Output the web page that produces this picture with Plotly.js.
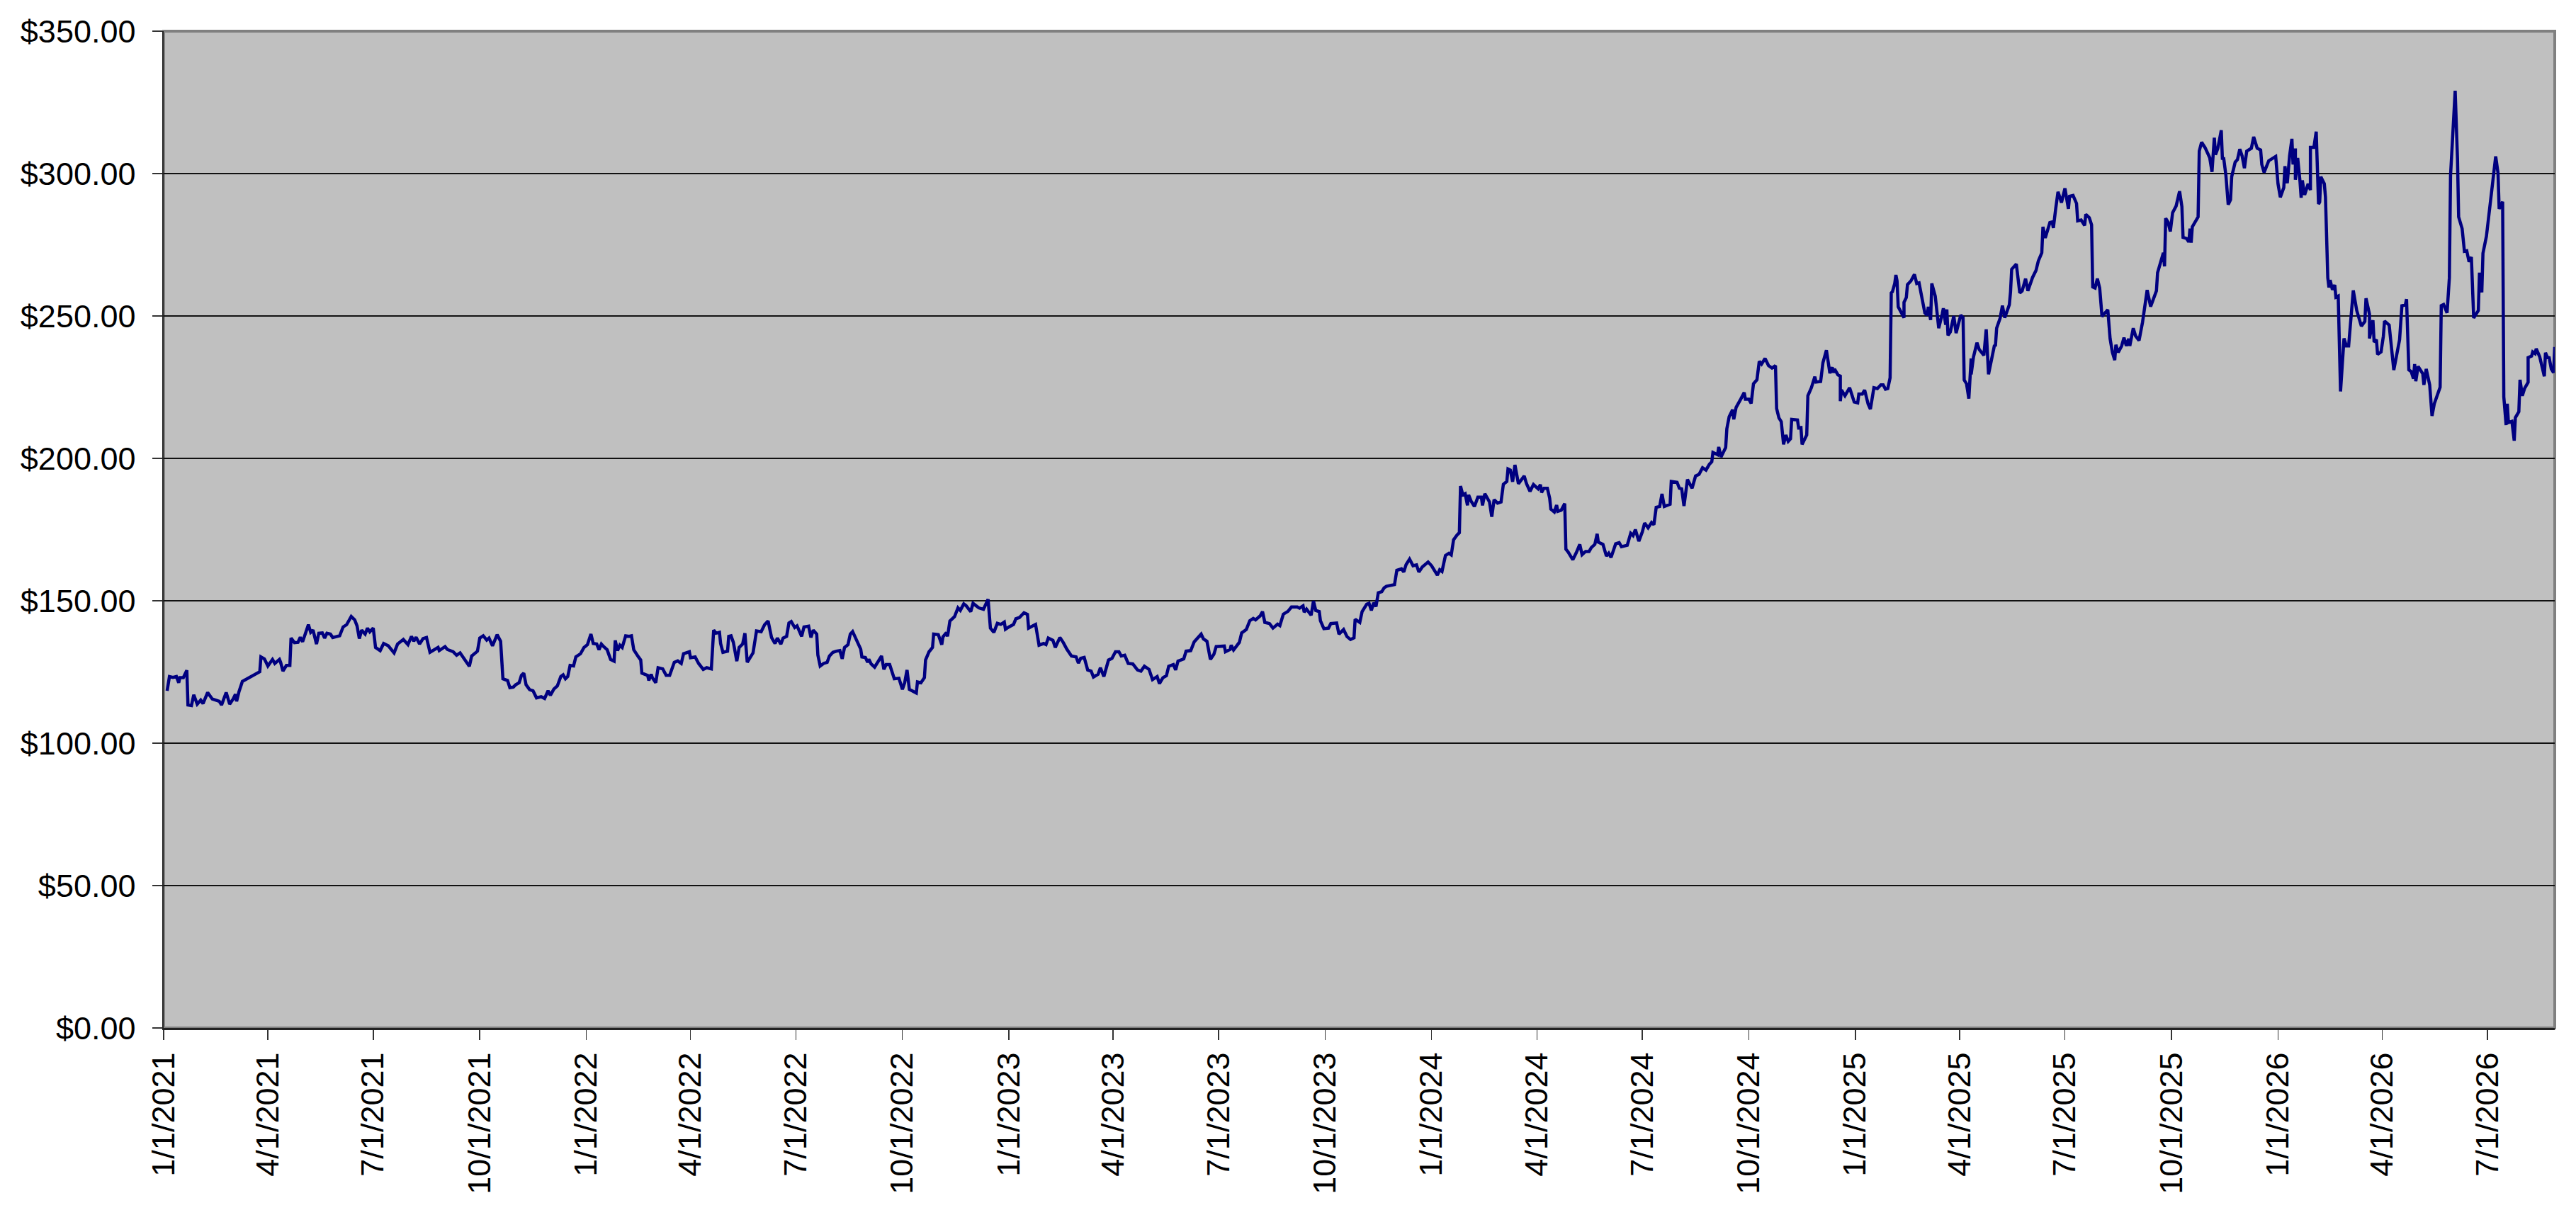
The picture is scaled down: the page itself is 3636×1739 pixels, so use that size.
<!DOCTYPE html>
<html>
<head>
<meta charset="utf-8">
<script src="https://cdn.plot.ly/plotly-3.0.1.min.js"></script>
<style>
  html, body { margin: 0; padding: 0; background: #ffffff; }
  #chart { width: 3636px; height: 1739px; }
</style>
</head>
<body>
<div id="chart"></div>
<script>
// days counted from 1/1/2021
const tradingDays = [
  3,5,8,11,13,14,17,20,21,24,26,29,32,34,38,42,48,50,54,57,60,62,63,65,68,73,77,81,83,84,
  87,90,94,96,100,101,103,106,109,110,113,116,118,120,123,125,127,129,132,134,137,139,141,144,146,152,155,158,162,165,
  167,169,171,174,176,178,181,183,187,190,194,197,199,202,207,211,214,216,218,221,224,227,230,237,238,243,245,250,253,256,
  259,262,264,266,271,273,276,279,281,284,288,291,293,297,
  299,302,304,307,309,311,313,316,319,322,326,329,332,334,337,340,343,345,347,349,351,354,356,360,363,366,369,371,374,376,
  378,380,383,386,389,390,392,394,396,399,402,404,406,410,412,413,416,418,419,421,422,425,427,431,434,437,441,444,447,449,
  454,455,459,462,466,469,473,475,477,480,481,483,487,488,490,492,495,497,500,502,504,507,509,512,516,519,522,525,528,530,
  533,535,538,540,542,545,547,551,553,557,559,561,564,565,567,570,573,575,578,581,584,586,588,591,593,
  595,599,602,603,606,608,609,611,614,620,622,624,627,631,635,638,640,642,644,650,651,654,657,658,661,664,665,669,672,673,
  676,677,679,683,686,688,691,693,697,699,704,708,712,714,717,720,723,726,727,730,734,736,739,743,746,747,753,756,760,762,
  764,768,770,774,777,780,784,788,790,792,795,798,801,803,807,809,812,816,819,822,825,827,830,833,837,841,844,847,851,854,
  858,860,863,866,868,872,874,876,881,883,887,890,
  893,896,898,901,904,907,909,916,917,921,922,924,929,931,935,938,941,943,947,949,951,955,958,962,964,967,971,974,979,981,
  984,985,987,991,993,995,998,999,1002,1006,1008,1013,1015,1019,1022,1025,1028,1029,1033,1035,1039,1041,1043,1045,1047,1049,1052,1054,1056,1059,
  1063,1065,1069,1071,1073,1076,1079,1082,1084,1087,1092,1095,1098,1100,1102,1104,1107,1110,1112,1114,1117,1119,1120,1122,1124,1126,1127,1129,1132,1135,
  1138,1139,1141,1145,1147,1149,1152,1155,1157,1160,1161,1163,1165,1167,1170,1175,1177,1180,1183,1187,
  1189,1190,1192,1195,1197,1198,1201,1203,1204,1207,1210,1211,1213,1217,1220,1223,1225,1228,1231,1233,1236,1238,1239,1243,1246,1248,1250,1254,1257,1259,
  1264,1267,1269,1271,1274,1277,1279,1282,1285,1287,1289,1292,1294,1296,1301,1302,1307,1309,1311,1313,1316,1320,1323,1326,1329,1332,1335,1337,1338,1342,
  1343,1345,1349,1350,1352,1355,1356,1358,1362,1365,1366,1369,1371,1373,1376,1378,1380,1383,1386,1389,1392,1393,1395,1397,1399,1401,1403,1405,1406,1411,
  1412,1414,1415,1419,1420,1423,1426,1427,1431,1433,1436,1439,1441,1442,1443,1446,1448,1448,1449,1452,1456,1460,1463,1464,1467,1469,1472,1474,1477,1480,1483,
  1485,1487,1489,1491,1492,1493,1495,1496,1497,1498,1501,1503,1503,1505,1506,1509,1512,1514,1516,1519,1521,1523,1524,1526,1527,1530,1532,1533,1536,1537,
  1539,1540,1541,1543,1546,1548,1552,1554,1555,1557,1559,1561,1561,1563,1566,1568,1572,1574,1576,1578,1579,1581,1582,1583,1586,1588,1590,1594,1595,1596,
  1600,1603,1605,1608,1610,1614,1617,1619,1622,1623,1625,1629,1631,1632,1634,1636,1639,1642,1645,1646,1649,1652,1653,1656,1659,1660,1663,1665,1666,1668,
  1670,1672,1674,1676,1679,1681,1683,1685,1686,1688,1691,1693,1695,1697,1698,1701,1703,1706,1709,1713,1716,1721,1722,1727,1728,1729,1731,1733,1735,1738,
  1741,1743,1744,1747,1749,1750,1751,1752,1756,1757,1758,1760,1763,1767,
  1769,1771,1772,1774,1777,1778,1779,1781,1783,1785,1786,1789,1791,1793,1795,1797,1799,1803,1805,1808,1811,1812,1814,1818,1824,1826,1828,1831,1832,1834,
  1836,1838,1839,1841,1841,1843,1845,1846,1847,1849,1852,1854,1854,1857,1859,1861,1862,1863,1866,1867,1869,1870,1871,1873,1875,1876,1878,1880,1883,1885,
  1887,1891,1894,1898,1901,1902,1905,1905,1908,1909,1911,1912,1915,1917,1918,1922,1926,1931,1933,1936,1937,1939,1941,1943,1944,1945,1947,1951,1952,1954,
  1957,1959,1961,1964,1966,1967,1969,1972,1974,1975,1979,1981,1982,1985,1987,1989,1991,1993,1995,1999,2000,2002,2003,2006,2009,2014,2016,2017,2020,2021,
  2023,2024,2025,2028,2030,2031,2034,2035,2037,2039,2042,2042,2045,2046,2048,2049,2052,2056,2057,2059,2060,2062,2064,2065
];

const closePrices = [
  118.4,123.4,123.1,123.4,121.2,123,123,125.6,113.4,113.2,117.0,113.7,115.1,113.9,117.8,115.5,114.7,113.4,117.8,113.7,115.5,117.2,114.7,118.0,121.7,122.8,123.8,124.6,125.1,130.3,
  129.6,127.1,129.4,128.0,129.4,128.4,125.3,127.3,127.3,136.9,135.3,135.4,137.2,135.6,139.1,141.6,138.9,139.7,134.8,138.6,138.7,136.9,138.6,138.3,137.1,137.7,140.8,141.6,144.5,143.3,
  141.2,136.7,139.7,138.3,140.4,139.1,140.4,133.6,132.5,135.0,134.2,132.5,131.7,134.8,136.4,134.6,137.5,135.8,137.2,134.8,136.7,137.1,131.9,133.6,132.5,133.9,132.9,132.1,130.9,131.7,
  130.0,128.1,127.0,130.6,132.3,136.9,137.7,136.2,136.9,134.2,138.1,135.8,122.6,122.0,
  119.5,119.7,120.5,121.2,123.8,124.6,120.5,118.8,118.4,115.9,116.3,115.7,118.4,116.8,119.0,120.1,123.4,124.0,122.6,123.4,127.3,127.1,130.3,131.4,133.6,134.6,138.3,135.0,134.8,132.8,
  134.8,133.9,132.8,129.4,128.8,136.1,132.5,134.4,133.6,137.7,137.5,137.7,132.8,130.3,129.2,124.6,124.0,123.8,122.0,124.2,123.0,121.2,126.5,126.1,123.8,123.8,128.4,128.9,128.0,131.4,
  132.1,130.0,130.3,128.0,125.9,126.5,126.1,139.7,138.6,138.9,135.0,131.9,132.3,137.5,137.7,135.4,128.8,133.6,134.8,138.6,128.4,130.3,131.7,139.4,139.1,141.6,142.9,137.1,135.0,136.9,
  134.8,136.9,137.5,142.2,142.7,140.6,141.2,137.5,140.8,141.1,137.1,139.7,138.3,130.9,127.1,128.0,128.4,130.6,131.9,132.3,132.5,129.6,133.6,134.6,138.3,
  139.2,135.9,133.0,130.3,130.1,128.4,129.5,127.8,126.7,130.6,125.9,127.6,127.6,122.6,122.8,118.9,121.3,125.7,118.9,117.6,121.5,121.2,123.0,129.2,132.1,133.6,138.3,138.1,134.6,137.3,
  138.8,137.5,142.9,144.4,147.5,146.6,148.9,148.3,146.2,149.1,147.5,147.0,150.5,140.4,138.9,142.1,141.7,142.5,140.0,140.8,141.7,143.7,144.1,145.8,145.2,140.4,141.7,134.4,135.0,134.6,
  136.9,136.1,133.6,137.1,135.3,133.0,130.6,130.3,128.1,129.8,130.1,125.7,125.3,123.2,124.2,126.5,123.4,129.2,129.8,132.1,132.1,130.6,130.9,128.0,127.8,125.7,125.3,127.0,125.9,122.3,
  123.4,120.9,123.0,123.7,127.0,127.6,125.7,128.8,129.6,132.3,132.5,135.6,
  137.0,138.3,136.6,135.8,129.4,131.2,133.9,134.1,132.1,132.9,134.4,132.7,135.4,138.7,139.9,143.0,143.8,143.3,144.7,146.2,142.4,142.0,140.4,141.8,141.3,145.3,146.3,147.8,147.8,147.4,
  148.2,146.0,147.1,144.9,149.9,146.6,146.2,143.0,140.2,140.4,142.0,142.2,138.3,139.9,137.4,136.4,137.0,143.5,142.4,146.2,148.8,149.1,146.6,149.3,148.0,152.8,153.2,154.5,155.1,155.3,
  155.7,160.7,161.2,160.1,162.7,164.6,162.3,162.6,160.1,161.9,163.6,162.3,160.3,159.0,160.9,160.3,165.9,166.7,166.1,171.4,173.1,173.9,190.3,187.2,187.6,183.5,187.2,185.1,183.1,186.4,
  186.4,183.5,187.6,184.7,179.5,185.5,184.3,184.7,190.9,191.9,196.3,195.9,191.8,197.7,191.1,193.8,191.1,188.4,190.8,189.3,
  190.8,188.0,189.5,189.5,186.0,182.2,181.2,183.6,181.4,181.8,184.1,168.1,167.1,164.4,166.9,169.8,166.2,167.3,167.3,168.7,169.8,173.5,170.6,169.8,165.7,166.7,165.2,170.0,170.4,169.0,
  169.5,173.7,172.9,175.0,170.9,174.2,177.3,175.6,177.5,176.7,182.8,183.1,187.5,183.1,183.9,191.9,191.6,189.5,189.3,183.3,192.6,189.5,193.8,194.4,196.7,195.9,198.0,198.8,202.1,201.3,
  204.0,200.5,203.8,210.4,214.6,217.1,213.7,217.9,220.8,223.1,220.8,220.8,219.3,226.2,227.6,234.1,233.1,235.1,232.6,231.7,232.6,217.5,214.2,212.9,204.9,208.2,206.0,206.9,213.7,213.5,
  210.7,210.8,204.9,208.2,222.0,224.8,228.7,226.8,227.0,233.6,238.0,229.9,232.0,230.1,231.4,229.3,228.9,220.1,224.0,222.0,224.8,219.8,219.5,222.6,222.6,224.0,219.1,217.3,224.8,224.5,225.8,
  225.8,224.3,224.5,228.3,258.1,258.5,261.4,264.4,262.3,253.2,250.7,249.4,254.8,256.5,261.0,262.3,264.6,261.4,261.6,254.4,251.1,250.3,253.2,248.6,261.4,256.9,248.6,245.7,250.7,252.7,
  246.9,252.3,243.2,244.4,250.0,244.0,250.3,249.4,227.5,226.2,221.0,235.1,229.5,235.6,240.6,238.2,236.2,245.3,229.5,233.7,236.2,239.5,239.7,245.7,249.2,253.6,249.4,254.0,258.5,266.4,
  268.2,258.1,258.8,263.1,258.8,263.5,266.0,269.3,272.2,281.3,277.4,282.8,283.0,280.9,287.6,293.6,289.8,294.8,287.6,292.0,292.3,289.5,283.4,283.7,281.8,285.7,284.5,282.0,260.2,259.8,
  263.1,259.8,249.8,250.8,252.2,242.0,237.2,234.5,239.9,237.2,239.5,242.4,239.5,242.0,239.5,245.7,243.0,241.4,247.8,259.1,253.3,258.8,265.2,272.2,267.4,284.3,283.0,279.7,286.3,288.6,
  293.8,288.4,277.6,277.2,276.0,280.7,275.7,281.3,283.8,284.8,307.9,311.0,309.1,305.6,
  300.6,312.6,306.6,308.8,315.2,304.9,305.7,299.4,289.1,290.8,298.9,304.0,304.9,308.6,306.2,301.9,307.9,308.9,312.9,308.9,308.3,303.2,300.4,304.5,306.0,296.4,291.7,295.1,302.6,296.6,
  306.2,312.2,303.2,308.8,297.8,305.5,297.2,291.5,297.6,292.5,296.4,294.2,309.2,309.2,314.7,289.3,290.0,298.9,296.4,291.7,263.4,260.0,262.6,259.2,260.9,256.6,257.0,223.5,242.1,239.5,
  239.5,259.0,251.9,246.4,248.1,256.2,250.6,242.1,248.5,240.8,241.7,236.5,237.4,242.9,248.2,246.8,231.0,241.7,253.6,253.9,255.9,231.1,230.5,228.0,233.1,227.1,232.3,229.7,225.8,231.4,
  225.8,214.9,219.2,222.4,225.0,253.6,254.0,251.1,263.4,299.3,329.1,305.2,284.8,280.7,272.7,272.9,269.0,270.7,249.3,251.9,265.2,258.3,272.0,278.0,289.1,306.0,300.2,287.6,290.1,221.6,
  211.7,219.2,212.6,213.0,206.2,214.3,216.4,227.6,222.0,224.6,226.7,235.4,235.9,237.4,236.8,238.5,235.7,228.8,237.1,235.1,235.7,231.4,230.1,239.1
];

const tickLabels = [
  "1/1/2021","4/1/2021","7/1/2021","10/1/2021",
  "1/1/2022","4/1/2022","7/1/2022","10/1/2022",
  "1/1/2023","4/1/2023","7/1/2023","10/1/2023",
  "1/1/2024","4/1/2024","7/1/2024","10/1/2024",
  "1/1/2025","4/1/2025","7/1/2025","10/1/2025",
  "1/1/2026","4/1/2026","7/1/2026"
];

const startDay = Date.UTC(2021, 0, 1);

function isoDate(ms) {
  return new Date(ms).toISOString().slice(0, 10);
}

const dates = tradingDays.map(function (d) { return isoDate(startDay + d * 86400000); });

const tickVals = tickLabels.map(function (s) {
  const p = s.split("/");
  return isoDate(Date.UTC(+p[2], +p[0] - 1, +p[1]));
});

const axisFont = { family: "Liberation Sans, Arial, sans-serif", size: 45, color: "#000000" };

const trace = {
  x: dates,
  y: closePrices,
  type: "scatter",
  mode: "lines",
  line: { color: "#000080", width: 4.5 },
  hoverinfo: "skip"
};

const layout = {
  width: 3636,
  height: 1739,
  margin: { l: 231, r: 30, t: 44, b: 288 },
  paper_bgcolor: "#ffffff",
  plot_bgcolor: "#c0c0c0",
  showlegend: false,
  font: axisFont,
  xaxis: {
    type: "date",
    range: ["2021-01-01", dates[dates.length - 1]],
    tickmode: "array",
    tickvals: tickVals,
    ticktext: tickLabels,
    tickangle: -90,
    ticks: "outside",
    ticklen: 14,
    tickwidth: 1.5,
    tickcolor: "#333333",
    showgrid: false,
    showline: true,
    linecolor: "#222222",
    linewidth: 2.5,
    zeroline: false,
    tickfont: axisFont
  },
  yaxis: {
    range: [0, 350],
    dtick: 50,
    tick0: 0,
    tickprefix: "$",
    tickformat: ",.2f",
    ticks: "outside",
    ticklen: 14,
    tickwidth: 1.5,
    tickcolor: "#333333",
    ticklabelstandoff: 14,
    showgrid: true,
    gridcolor: "#111111",
    gridwidth: 1.3,
    showline: true,
    linecolor: "#222222",
    linewidth: 2.5,
    zeroline: false,
    tickfont: axisFont
  },
  shapes: [{
    type: "rect",
    xref: "paper", yref: "paper",
    x0: 0, x1: 1, y0: 0, y1: 1,
    line: { color: "#808080", width: 4 },
    layer: "below"
  }]
};

Plotly.newPlot("chart", [trace], layout, { staticPlot: true, displayModeBar: false });
</script>
</body>
</html>
